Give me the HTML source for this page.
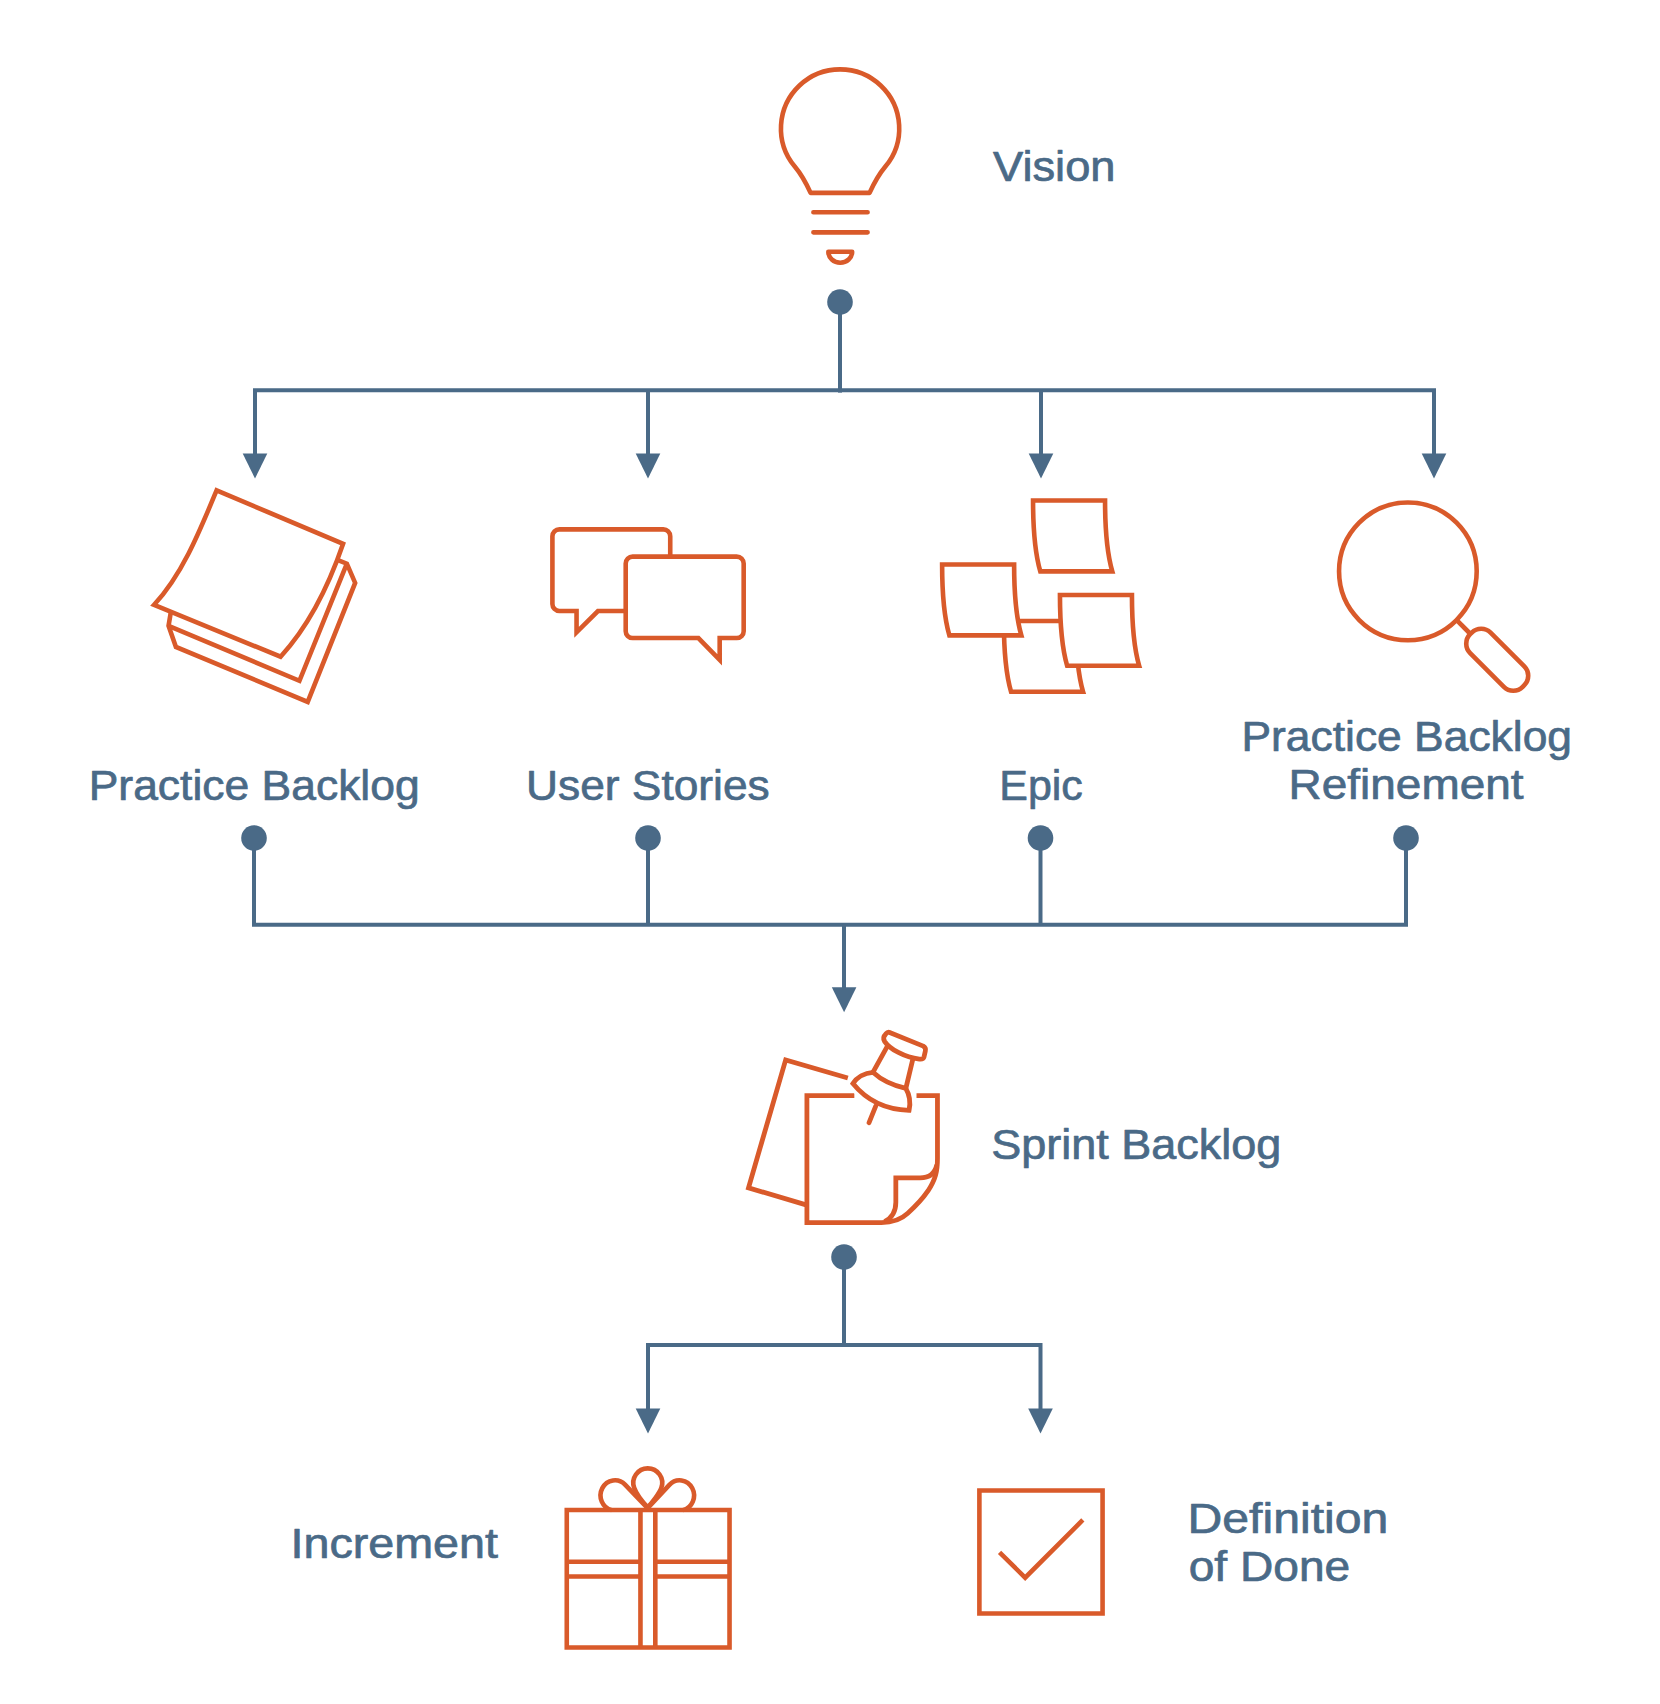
<!DOCTYPE html>
<html lang="en">
<head>
<meta charset="utf-8">
<title>Scrum Artifacts Flow</title>
<style>
  html, body { margin: 0; padding: 0; background: #ffffff; }
  body { width: 1660px; height: 1704px; overflow: hidden; }
  svg { display: block; }
  .lbl { font-family: "Liberation Sans", sans-serif; font-size: 42px; fill: #4a6a87; stroke: #4a6a87; stroke-width: 0.7px; stroke-linejoin: round; }
  .ln { fill: none; stroke: #4a6a87; stroke-width: 4; stroke-linejoin: miter; stroke-linecap: butt; }
  .dot, .arr { fill: #4a6a87; stroke: none; }
  .ic { fill: none; stroke: #d95a2a; stroke-linejoin: miter; stroke-miterlimit: 10; stroke-linecap: butt; }
  .icw { fill: #ffffff; stroke: #d95a2a; stroke-linejoin: miter; stroke-miterlimit: 10; stroke-linecap: butt; }
  .rc { stroke-linecap: round; }
  .rj { stroke-linejoin: round; }
</style>
</head>
<body>
<svg width="1660" height="1704" viewBox="0 0 1660 1704">
  <rect x="0" y="0" width="1660" height="1704" fill="#ffffff"/>

  <!-- ===== connectors: level 1 ===== -->
  <g id="connectors">
    <!-- level 1 -->
    <path class="ln" d="M840 302 V392.6"/>
    <path class="ln" d="M255 456 V390.2 H1434 V456"/>
    <path class="ln" d="M648 390.2 V456"/>
    <path class="ln" d="M1041 390.2 V456"/>
    <circle class="dot" cx="840" cy="302" r="12.8"/>
    <path class="arr" d="M242.7 453.5 H267.3 L255.0 478.5 Z"/>
    <path class="arr" d="M635.7 453.5 H660.3 L648.0 478.5 Z"/>
    <path class="arr" d="M1028.7 453.5 H1053.3 L1041.0 478.5 Z"/>
    <path class="arr" d="M1421.7 453.5 H1446.3 L1434.0 478.5 Z"/>

    <!-- level 2 -->
    <path class="ln" d="M254 838 V924.75 H1406 V838"/>
    <path class="ln" d="M648 838 V924.75"/>
    <path class="ln" d="M1040.5 838 V924.75"/>
    <path class="ln" d="M844 924.75 V990"/>
    <circle class="dot" cx="254" cy="838" r="12.8"/>
    <circle class="dot" cx="648" cy="838" r="12.8"/>
    <circle class="dot" cx="1040.5" cy="838" r="12.8"/>
    <circle class="dot" cx="1406" cy="838" r="12.8"/>
    <path class="arr" d="M831.8 987.2 H856.4 L844.1 1012.2 Z"/>

    <!-- level 3 -->
    <path class="ln" d="M844 1257 V1345"/>
    <path class="ln" d="M648 1411 V1345 H1040.5 V1411"/>
    <circle class="dot" cx="844" cy="1257" r="12.8"/>
    <path class="arr" d="M635.7 1408.4 H660.3 L648.0 1433.4 Z"/>
    <path class="arr" d="M1028.2 1408.4 H1052.8 L1040.5 1433.4 Z"/>
  </g>

  <!-- ===== labels ===== -->
  <g id="labels">
    <text class="lbl" x="993" y="180.7" textLength="122.5" lengthAdjust="spacingAndGlyphs">Vision</text>
    <text class="lbl" x="88.7" y="800" textLength="331" lengthAdjust="spacingAndGlyphs">Practice Backlog</text>
    <text class="lbl" x="526" y="800.3" textLength="243.7" lengthAdjust="spacingAndGlyphs">User Stories</text>
    <text class="lbl" x="999.3" y="799.8" textLength="83.5" lengthAdjust="spacingAndGlyphs">Epic</text>
    <text class="lbl" x="1241.5" y="751" textLength="330.5" lengthAdjust="spacingAndGlyphs">Practice Backlog</text>
    <text class="lbl" x="1288.6" y="799" textLength="235" lengthAdjust="spacingAndGlyphs">Refinement</text>
    <text class="lbl" x="991.2" y="1158.6" textLength="290" lengthAdjust="spacingAndGlyphs">Sprint Backlog</text>
    <text class="lbl" x="290.5" y="1558.4" textLength="207.5" lengthAdjust="spacingAndGlyphs">Increment</text>
    <text class="lbl" x="1187.5" y="1533.2" textLength="200.8" lengthAdjust="spacingAndGlyphs">Definition</text>
    <text class="lbl" x="1188.7" y="1581.2" textLength="161.5" lengthAdjust="spacingAndGlyphs">of Done</text>
  </g>

  <!-- ===== icons ===== -->
  <g id="icons">
  <!-- vision bulb -->
    <path class="ic rj" stroke-width="4.6" d="M 810.60 192.92 H 869.57 C 873.43 184.37 879.05 174.09 885.39 166.53 A 59.14 59.14 0 1 0 794.78 166.53 C 801.12 174.09 806.74 184.37 810.60 192.92 Z"/>
    <path class="ic rc" stroke-width="4.6" d="M 813.39 212.30 H 867.60 M 813.39 232.34 H 867.60"/>
    <path class="ic rj" stroke-width="4.6" d="M 828.34 251.72 H 852.16 A 11.91 11.01 0 0 1 828.34 251.72 Z"/>
  <!-- practice backlog stack -->
    <path class="ic" stroke-width="4.6" d="M 170.66 613.07 L 168.55 625.87 L 175.93 646.96 L 307.71 701.93 L 355.15 582.95 L 346.87 563.67 L 338.58 560.36"/>
    <path class="ic" stroke-width="4.6" d="M 168.55 625.87 L 299.43 680.84 L 346.87 563.67"/>
    <path class="icw" stroke-width="4.6" d="M 216.60 490.33 L 343.10 543.80 C 333.31 572.41 313.73 620.60 280.60 656.75 L 154.10 604.79 C 182.71 573.92 200.03 530.24 216.60 490.33 Z"/>
  <!-- user stories bubbles -->
    <path class="ic" stroke-width="4.6" d="M 631.20 611.03 H 597.95 L 576.55 632.28 V 611.03 H 559.35 A 6.94 6.94 0 0 1 552.41 604.09 V 536.29 A 6.94 6.94 0 0 1 559.35 529.35 H 663.29 A 6.94 6.94 0 0 1 670.23 536.29 V 560.72"/>
    <path class="icw" stroke-width="4.6" d="M 632.65 556.67 H 736.74 A 6.94 6.94 0 0 1 743.68 563.61 V 631.13 A 6.94 6.94 0 0 1 736.74 638.07 H 719.68 V 659.75 L 698.43 638.07 H 632.65 A 6.94 6.94 0 0 1 625.71 631.13 V 563.61 A 6.94 6.94 0 0 1 632.65 556.67 Z"/>
  <!-- epic notes -->
    <path class="icw" stroke-width="4.6" d="M 1003.85 620.96 H 1075.85 C 1075.85 652.76 1078.02 674.45 1083.08 691.80 H 1011.08 C 1006.02 674.45 1003.85 652.76 1003.85 620.96 Z"/>
    <path class="icw" stroke-width="4.6" d="M 1033.05 500.53 H 1105.05 C 1105.05 532.33 1107.22 554.02 1112.28 571.37 H 1040.28 C 1035.22 554.02 1033.05 532.33 1033.05 500.53 Z"/>
    <path class="icw" stroke-width="4.6" d="M 942.12 564.57 H 1014.12 C 1014.12 596.38 1016.28 618.07 1021.34 635.41 H 949.35 C 944.29 618.07 942.12 596.38 942.12 564.57 Z"/>
    <path class="icw" stroke-width="4.6" d="M 1059.95 594.93 H 1131.94 C 1131.94 626.74 1134.11 648.43 1139.17 665.77 H 1067.17 C 1062.11 648.43 1059.95 626.74 1059.95 594.93 Z"/>
  <!-- refinement magnifier -->
    <circle class="ic" stroke-width="4.6" cx="1407.87" cy="571.37" r="68.82"/>
    <path class="ic" stroke-width="4.6" d="M 1456.45 619.95 L 1469.75 633.25"/>
    <rect class="ic" stroke-width="4.6" x="-37.15" y="-14.46" width="74.31" height="28.91" rx="13.30" transform="translate(1497.22,659.70) rotate(45)"/>
  <!-- sprint backlog -->
    <path class="ic" stroke-width="4.8" d="M 847.83 1077.95 L 785.66 1059.88 L 748.51 1187.82 L 806.91 1205.17"/>
    <path class="ic" stroke-width="4.8" d="M 916.50 1095.59 H 937.46 V 1158.41 C 937.47 1171.32 935.53 1179.06 928.11 1190.68 C 921.98 1199.72 914.87 1206.82 907.77 1213.28 C 901.32 1219.41 893.57 1222.64 881.30 1222.64 H 806.91 V 1095.59 H 854.33"/>
    <path class="ic" stroke-width="4.8" d="M 936.82 1164.86 C 934.89 1173.90 928.43 1177.97 920.04 1177.97 H 895.83 V 1202.30 C 895.83 1210.70 892.28 1217.80 884.53 1221.67"/>
    <path fill="#ffffff" stroke="#ffffff" stroke-width="11" stroke-linejoin="round" d="M 889.06 1032.27 L 923.28 1046.15 Q 926.18 1047.76 925.35 1050.99 L 924.05 1056.80 Q 923.28 1059.51 919.41 1059.06 C 904.56 1057.44 889.71 1049.05 884.54 1041.30 Q 882.29 1037.43 885.84 1033.88 Q 887.45 1031.94 889.06 1032.27 Z M 872.92 1072.29 C 864.53 1072.94 856.79 1077.46 852.91 1083.59 C 865.82 1099.41 885.19 1109.74 909.08 1110.38 C 910.69 1102.63 910.05 1095.53 905.85 1088.43 C 891.65 1085.20 881.32 1080.04 872.92 1072.29 Z M 886.16 1048.41 L 872.92 1072.29 L 905.85 1088.43 L 912.63 1060.03 Z"/>
    <path class="ic rc" stroke-width="4.8" d="M 875.83 1105.86 L 869.05 1122.65"/>
    <path class="icw" stroke-width="4.8" d="M 872.92 1072.29 C 864.53 1072.94 856.79 1077.46 852.91 1083.59 C 865.82 1099.41 885.19 1109.74 909.08 1110.38 C 910.69 1102.63 910.05 1095.53 905.85 1088.43 C 891.65 1085.20 881.32 1080.04 872.92 1072.29 Z"/>
    <path class="ic" stroke-width="4.8" d="M 888.10 1044.85 L 872.92 1072.29 M 913.47 1056.48 L 905.85 1088.43"/>
    <path class="icw rj" stroke-width="4.8" d="M 889.06 1032.27 L 923.28 1046.15 Q 926.18 1047.76 925.35 1050.99 L 924.05 1056.80 Q 923.28 1059.51 919.41 1059.06 C 904.56 1057.44 889.71 1049.05 884.54 1041.30 Q 882.29 1037.43 885.84 1033.88 Q 887.45 1031.94 889.06 1032.27 Z"/>
  <!-- increment gift -->
    <path class="ic" stroke-width="4.6" d="M 566.77 1510.04 H 729.53 V 1647.48 H 566.77 Z"/>
    <path class="ic" stroke-width="4.6" d="M 640.46 1510.04 V 1647.48 M 655.31 1642.58 V 1647.48 M 655.31 1510.04 V 1647.48"/>
    <path class="ic" stroke-width="4.6" d="M 566.77 1561.73 H 640.46 M 566.77 1576.57 H 640.46 M 655.31 1561.73 H 729.53 M 655.31 1576.57 H 729.53"/>
    <path class="ic rj" stroke-width="4.6" d="M 647.62 1507.35 C 643.21 1502.58 636.12 1493.18 634.17 1487.76 A 14.46 14.46 0 1 1 661.35 1487.76 C 659.40 1493.18 652.31 1502.58 647.62 1507.35 Z"/>
    <path class="ic rj" stroke-width="4.6" d="M 647.62 1508.07 L 625.05 1484.67 A 14.39 15.11 0 1 0 611.69 1510.14"/>
    <path class="ic rj" stroke-width="4.6" d="M 647.62 1508.07 L 669.38 1484.82 A 14.39 15.11 0 1 1 682.89 1510.14"/>
  <!-- definition of done checkbox -->
    <path class="ic" stroke-width="4.6" d="M 979.39 1490.47 H 1102.57 V 1613.55 H 979.39 Z"/>
    <path class="ic" stroke-width="4.6" d="M 999.56 1552.39 L 1025.15 1577.65 L 1082.83 1519.97"/>
  </g>
</svg>
</body>
</html>
